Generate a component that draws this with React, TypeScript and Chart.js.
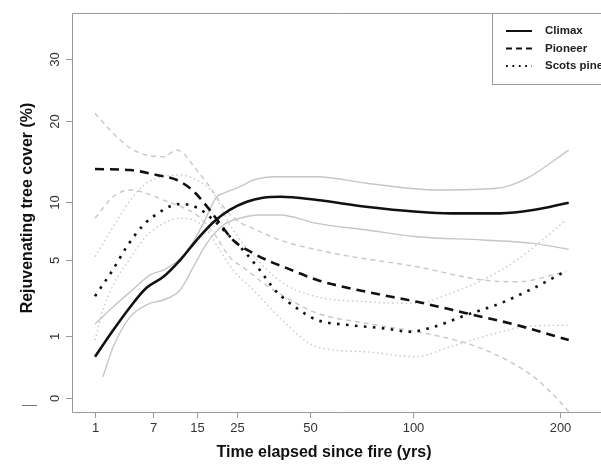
import React, { useEffect, useRef } from 'react';
import { Chart, registerables } from 'chart.js';
Chart.register(...registerables);

// ---- data (years since fire, % rejuvenating tree cover) ----
const climaxYears = [1, 2.3, 4, 6, 8.6, 11.6, 15, 19, 23, 28, 33, 39, 53, 75, 102, 122, 155, 179, 207];
const climaxCover = [0.44, 1.2, 2.17, 3.15, 3.83, 4.96, 6.51, 8.11, 9.22, 10.06, 10.47, 10.58, 10.23, 9.55, 9.06, 8.9, 8.9, 9.22, 9.96];

const climaxUpYears = [1, 2.3, 4, 6.5, 8.6, 11.3, 13.6, 16.5, 19.7, 21.4, 26, 30, 37.6, 52.8, 75.4, 113.5, 152.6, 174.3, 207];
const climaxUpCover = [1.42, 2.17, 2.94, 3.94, 4.27, 4.96, 5.97, 7.96, 10.58, 10.94, 11.66, 12.41, 12.79, 12.79, 12.04, 11.3, 11.48, 12.6, 16.06];

const climaxLoYears = [1.5, 2.3, 4, 6.5, 8.6, 11.6, 14.3, 17.3, 21.4, 26, 32, 38.8, 52.8, 75.4, 102, 143, 179, 207];
const climaxLoCover = [0.115, 0.68, 1.72, 2.33, 2.5, 3.04, 4.49, 6.24, 7.81, 8.43, 8.74, 8.74, 7.96, 7.36, 6.79, 6.51, 6.24, 5.77];

const pioneerYears = [1, 4, 7.5, 11, 13.6, 15.8, 18, 20.5, 24, 30, 36, 40, 53, 75, 102, 132, 167, 207];
const pioneerCover = [13.69, 13.57, 12.99, 12.41, 11.48, 10.41, 9.22, 7.96, 6.51, 5.46, 4.8, 4.49, 3.63, 2.94, 2.41, 1.87, 1.38, 0.87];

const pioneerUpYears = [1, 2.3, 4, 6, 8.6, 11, 12.2, 15, 18, 21.4, 25, 31, 38.8, 60, 102, 143, 167, 205];
const pioneerUpCover = [21.18, 18.3, 16.29, 15.42, 15.21, 16.06, 15.64, 13.57, 11.66, 9.55, 8.27, 7.36, 6.51, 5.46, 4.49, 3.63, 3.52, 4.16];

const pioneerLoYears = [1, 2.3, 4, 6, 8.6, 11, 15, 19, 23, 28, 34, 40, 53, 75, 102, 132, 155, 179, 197, 207];
const pioneerLoCover = [8.43, 10.58, 11.3, 10.94, 10.23, 9.72, 8.74, 7.08, 5.21, 4.27, 3.33, 2.71, 1.87, 1.45, 1.14, 0.78, 0.44, 0.12, 0, -0.05];

const scotsYears = [1, 2.25, 3.6, 5.6, 7.7, 10.3, 11.9, 15.4, 18.9, 22.3, 26.9, 32, 37, 46, 53, 67, 84, 98, 112, 132, 155, 179, 204];
const scotsCover = [2.7, 4.27, 5.97, 7.81, 8.9, 9.72, 9.82, 9.39, 8.27, 7.08, 5.71, 4.27, 3.04, 2.01, 1.58, 1.38, 1.26, 1.14, 1.32, 1.79, 2.33, 3.13, 4.16];

const scotsUpYears = [1, 2.3, 4, 6, 8.6, 11.6, 15, 18.9, 23.2, 28.9, 40, 52.8, 75.4, 102, 122, 143, 167, 205];
const scotsUpCover = [5.21, 7.66, 10.23, 12.04, 12.79, 12.99, 12.41, 10.94, 7.81, 5.6, 3.43, 2.67, 2.41, 2.33, 2.85, 3.63, 4.96, 8.27];

const scotsLoYears = [1, 1.5, 2.3, 4, 6, 8.6, 11.6, 14.3, 17.3, 20.5, 24, 30, 38.8, 52.8, 75.4, 101, 122, 143, 174, 207];
const scotsLoCover = [0.87, 2.0, 3.33, 5.11, 6.84, 7.96, 8.43, 8.27, 7.36, 5.71, 4.27, 3.04, 1.66, 0.68, 0.55, 0.44, 0.68, 0.97, 1.32, 1.38];

const xTicks = [1, 7, 15, 25, 50, 100, 200];
const yTicks = [0, 1, 5, 10, 20, 30];
const legendLabels = ['Climax', 'Pioneer', 'Scots pine'];

const xTitle = 'Time elapsed since fire (yrs)';
const yTitle = 'Rejuvenating tree cover (%)';

// square-root axes (signed so that CI bounds below zero can be drawn)
const ssqrt = (v: number) => Math.sign(v) * Math.sqrt(Math.abs(v));
const pts = (xs: number[], ys: number[]) => xs.map((t, i) => ({ x: Math.sqrt(t), y: ssqrt(ys[i]) }));

const FONT = '"Liberation Sans", Arial, Helvetica, sans-serif';

const rPlot = {
  id: 'rPlot',
  afterDraw(chart: any) {
    const { ctx, chartArea: a, scales } = chart;
    const xs = scales.x;
    const ys = scales.y;
    ctx.save();
    // frame
    ctx.strokeStyle = '#9a9a9a';
    ctx.lineWidth = 1;
    ctx.beginPath();
    ctx.moveTo(a.right + 2, Math.round(a.top) + 0.5);
    ctx.lineTo(Math.round(a.left) + 0.5, Math.round(a.top) + 0.5);
    ctx.lineTo(Math.round(a.left) + 0.5, Math.round(a.bottom) + 0.5);
    ctx.lineTo(a.right + 2, Math.round(a.bottom) + 0.5);
    ctx.stroke();

    // x ticks
    ctx.fillStyle = '#333';
    ctx.font = '13px ' + FONT;
    ctx.textAlign = 'center';
    ctx.textBaseline = 'middle';
    for (const t of xTicks) {
      const px = Math.round(xs.getPixelForValue(Math.sqrt(t))) + 0.5;
      ctx.beginPath();
      ctx.moveTo(px, a.bottom);
      ctx.lineTo(px, a.bottom + 6);
      ctx.stroke();
      ctx.fillText(String(t), px, a.bottom + 16);
    }
    // y ticks
    for (const v of yTicks) {
      const py = Math.round(ys.getPixelForValue(Math.sqrt(v))) + 0.5;
      ctx.beginPath();
      ctx.moveTo(a.left - 6, py);
      ctx.lineTo(a.left, py);
      ctx.stroke();
      ctx.save();
      ctx.translate(a.left - 17, py);
      ctx.rotate(-Math.PI / 2);
      ctx.fillText(String(v), 0, 0);
      ctx.restore();
    }
    // stray mark at lower left
    ctx.strokeStyle = '#777';
    ctx.beginPath();
    ctx.moveTo(22, 405.5);
    ctx.lineTo(37, 405.5);
    ctx.stroke();

    // axis titles
    ctx.fillStyle = '#111';
    ctx.font = 'bold 16px ' + FONT;
    ctx.fillText(xTitle, 324, 453);
    ctx.save();
    ctx.translate(28, 208);
    ctx.rotate(-Math.PI / 2);
    ctx.fillText(yTitle, 0, 0);
    ctx.restore();

    // legend
    const lx = 492.5;
    const ly = Math.round(a.top) + 0.5;
    ctx.fillStyle = '#fff';
    ctx.fillRect(lx, ly, 200, 71);
    ctx.strokeStyle = '#9a9a9a';
    ctx.lineWidth = 1;
    ctx.strokeRect(lx, ly, 200, 71);
    const rows = [31, 48.5, 66];
    const dashes = [[], [6, 4], [1.8, 4.6]];
    ctx.font = 'bold 11.5px ' + FONT;
    ctx.textAlign = 'left';
    legendLabels.forEach((lab, i) => {
      ctx.strokeStyle = '#111';
      ctx.lineWidth = 2;
      ctx.setLineDash(dashes[i]);
      ctx.beginPath();
      ctx.moveTo(506, rows[i]);
      ctx.lineTo(532, rows[i]);
      ctx.stroke();
      ctx.setLineDash([]);
      ctx.fillStyle = '#222';
      ctx.fillText(lab, 545, rows[i]);
    });
    ctx.restore();
  },
};

export default function App() {
  const ref = useRef<HTMLCanvasElement>(null);
  useEffect(() => {
    const mean = (data: any, dash: number[]) => ({
      data,
      borderColor: '#111',
      borderWidth: 2.6,
      borderDash: dash,
      pointRadius: 0,
      cubicInterpolationMode: 'monotone' as const,
    });
    const ci = (data: any, dash: number[], color: string) => ({
      data,
      borderColor: color,
      borderWidth: 1.4,
      borderDash: dash,
      pointRadius: 0,
      cubicInterpolationMode: 'monotone' as const,
    });
    const chart = new Chart(ref.current as HTMLCanvasElement, {
      type: 'line',
      data: {
        datasets: [
          mean(pts(climaxYears, climaxCover), []),
          mean(pts(pioneerYears, pioneerCover), [9, 6]),
          mean(pts(scotsYears, scotsCover), [2.6, 6.4]),
          ci(pts(climaxUpYears, climaxUpCover), [], '#c6c6c6'),
          ci(pts(climaxLoYears, climaxLoCover), [], '#c6c6c6'),
          ci(pts(pioneerUpYears, pioneerUpCover), [5, 4], '#c8c8c8'),
          ci(pts(pioneerLoYears, pioneerLoCover), [5, 4], '#c8c8c8'),
          ci(pts(scotsUpYears, scotsUpCover), [1.5, 3], '#c8c8c8'),
          ci(pts(scotsLoYears, scotsLoCover), [1.5, 3], '#c8c8c8'),
        ] as any,
      },
      options: {
        responsive: false,
        animation: false,
        layout: { padding: { left: 72, top: 13, right: 0, bottom: 52 } },
        scales: {
          x: { type: 'linear', display: false, min: 0.35, max: 15.3 },
          y: { type: 'linear', display: false, min: -0.231, max: 6.225 },
        },
        plugins: { legend: { display: false }, tooltip: { enabled: false } },
        events: [],
      },
      plugins: [rPlot],
    });
    return () => chart.destroy();
  }, []);
  return (
    <div style={{ position: 'fixed', left: 0, top: 0, width: 601, height: 464, background: '#fff' }}>
      <canvas ref={ref} width={601} height={464} style={{ display: 'block', width: 601, height: 464 }} />
    </div>
  );
}
